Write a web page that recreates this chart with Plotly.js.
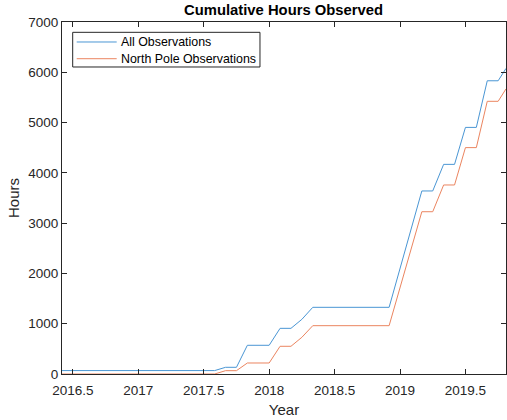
<!DOCTYPE html>
<html>
<head>
<meta charset="utf-8">
<script src="https://cdn.plot.ly/plotly-3.0.1.min.js"></script>
<style>html,body{margin:0;padding:0;background:#fff;}#chart{width:507px;height:420px;}</style>
</head>
<body>
<div id="chart"></div>
<script>
const years = [2016.4167, 2017.5833, 2017.6667, 2017.75, 2017.8333, 2018.0, 2018.0833, 2018.1667, 2018.25, 2018.3333, 2018.9167, 2019.1667, 2019.25, 2019.3333, 2019.4167, 2019.5, 2019.5833, 2019.6667, 2019.75, 2019.81];
const allHours = [68, 68, 133, 133, 571, 571, 908, 908, 1087, 1326, 1326, 3640, 3640, 4169, 4169, 4904, 4904, 5831, 5831, 6077];
const northHours = [0, 0, 66, 66, 219, 219, 551, 551, 730, 961, 961, 3227, 3227, 3759, 3759, 4502, 4502, 5423, 5423, 5670];
const seriesNames = ['All Observations', 'North Pole Observations'];
const seriesColors = ['#4a96d4', '#eb8560'];
const xTicks = [2016.5, 2017, 2017.5, 2018, 2018.5, 2019, 2019.5];
const yTicks = [0, 1000, 2000, 3000, 4000, 5000, 6000, 7000];

const font = 'Liberation Sans, Arial, Helvetica, sans-serif';
const axisCol = '#262626';

const traces = [
  {x: years, y: allHours, name: seriesNames[0], type: 'scatter', mode: 'lines',
   line: {color: seriesColors[0], width: 1}},
  {x: years, y: northHours, name: seriesNames[1], type: 'scatter', mode: 'lines',
   line: {color: seriesColors[1], width: 1}}
];

const axisCommon = {
  showgrid: false, zeroline: false, showline: true, linecolor: axisCol, linewidth: 1,
  mirror: 'ticks', ticks: 'inside', ticklen: 5, tickcolor: axisCol, tickwidth: 1,
  tickfont: {family: font, size: 13.5, color: axisCol}
};

// MATLAB-style legend box built from the series names/colours
const legendRows = [0.9432, 0.8957];
const shapes = [
  {type: 'rect', xref: 'paper', yref: 'paper', x0: 0.0241, x1: 0.4459, y0: 0.8722, y1: 0.9707,
   line: {color: axisCol, width: 1}, fillcolor: '#fff', layer: 'above'}
];
const annotations = [];
seriesNames.forEach((n, i) => {
  shapes.push({type: 'line', xref: 'paper', yref: 'paper', x0: 0.0331, x1: 0.1232,
    y0: legendRows[i], y1: legendRows[i], line: {color: seriesColors[i], width: 1}, layer: 'above'});
  annotations.push({xref: 'paper', yref: 'paper', x: 0.1275, y: legendRows[i], xanchor: 'left',
    yanchor: 'middle', text: n, showarrow: false, font: {family: font, size: 12.4, color: '#000'}});
});

const layout = {
  width: 507, height: 420,
  margin: {l: 62, r: 1, t: 22, b: 46},
  paper_bgcolor: '#fff', plot_bgcolor: '#fff',
  title: {text: '<b>Cumulative Hours Observed</b>', font: {family: font, size: 14.8, color: '#000'},
          x: 0.5593, xanchor: 'center', y: 0.976, yanchor: 'middle'},
  xaxis: Object.assign({}, axisCommon, {
    range: [2016.4167, 2019.81], tickmode: 'array', tickvals: xTicks,
    ticktext: xTicks.map(String), ticklabelstandoff: 4,
    title: {text: 'Year', font: {family: font, size: 15, color: axisCol}, standoff: 7}
  }),
  yaxis: Object.assign({}, axisCommon, {
    range: [0, 7000], tickmode: 'array', tickvals: yTicks,
    ticktext: yTicks.map(String),
    title: {text: 'Hours', font: {family: font, size: 15, color: axisCol}, standoff: 5}
  }),
  showlegend: false,
  shapes: shapes,
  annotations: annotations
};

Plotly.newPlot('chart', traces, layout, {displayModeBar: false, staticPlot: true});
</script>
</body>
</html>
